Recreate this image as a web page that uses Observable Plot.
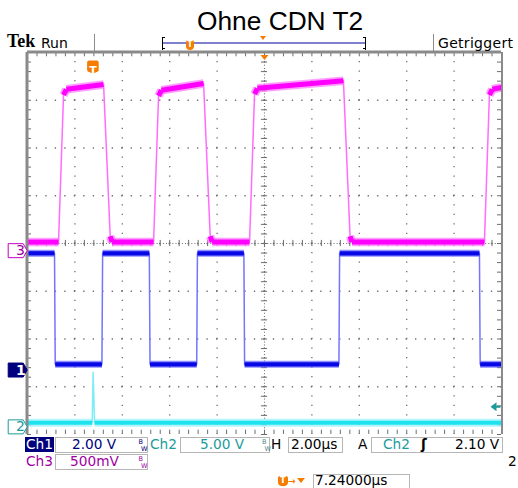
<!DOCTYPE html>
<html>
<head>
<meta charset="utf-8">
<script src="https://cdn.jsdelivr.net/npm/d3@7"></script>
<script src="https://cdn.jsdelivr.net/npm/@observablehq/plot@0.6"></script>
<style>
  body { margin: 0; background: #fff; }
  #scope { position: relative; width: 518px; height: 488px; overflow: hidden; background: #fff; }
  #scope .t { position: absolute; white-space: nowrap; line-height: 1; }
  #scope .box { position: absolute; border: 1px solid #b6b6b6; box-sizing: border-box; }
  #scope .blk { position: absolute; }
  #chart { position: absolute; left: 0; top: 0; }
</style>
</head>
<body>
<div id="scope"><div id="chart"></div></div>
<script>
// ---- Time base: 2 µs/div over 10 divisions; trigger (t = 0) sits 7.24 µs left of centre
const tLeft = -2.76, tRight = 17.24, tCenter = 7.24;

// ---- Vertical settings: volts per division and ground marker (divisions from centre)
const ch1Scale = 2.0, ch1Offset = -2.65;
const ch2Scale = 5.0, ch2Offset = -3.84;
const ch3Scale = 0.5, ch3Offset = -0.15;
const ch2TriggerLevel = 2.10;

// ---- Ch1 (blue): drive signal, time in µs / voltage in V
const ch1Time = [-2.76, -1.62, -1.59, 0.38, 0.41, 2.38, 2.41, 4.38, 4.41, 6.37, 6.40, 10.38, 10.41, 16.31, 16.34, 17.24];
const ch1Volt = [ 4.89,  4.89,  0.24, 0.24, 4.89, 4.89, 0.24, 0.24, 4.89, 4.89, 0.24,  0.24,  4.89,  4.89,  0.24,  0.24];

// ---- Ch3 (magenta): output, time in µs / voltage in V
const ch3Time = [-2.76, -1.45, -1.24, -1.12, 0.45, 0.73, 0.81,
                  2.56,  2.77,  2.89,  4.67, 4.95, 5.03,
                  6.61,  6.82,  6.94, 10.57, 10.85, 10.93,
                 16.52, 16.73, 16.85, 17.24];
const ch3Volt = [ 0.09,  0.09,  1.63,  1.69, 1.74, 0.15, 0.09,
                  0.09,  1.62,  1.68,  1.75, 0.15, 0.09,
                  0.09,  1.64,  1.70,  1.78, 0.15, 0.09,
                  0.09,  1.63,  1.69,  1.71];

// ---- Ch2 (cyan): trigger source with its single spike at t = 0
const ch2Time = [-2.76, -0.03, 0.01, 0.07, 17.24];
const ch2Volt = [ 0.44,  0.44, 5.73, 0.44,  0.44];

// ---- Readouts
const title = "Ohne CDN T2";
const ch1Readout = "2.00 V", ch2Readout = "5.00 V", ch3Readout = "500mV";
const timeReadout = "2.00µs", trigReadout = "2.10 V", delayReadout = "7.24000µs";

// ---- Colours
const magenta = "#ff00ff", blue = "#0808e6", cyan = "#1ee3ef", orange = "#f57c00";
const ch1Text = "#00007e", ch2Text = "#1b9c9c", ch3Text = "#a000a0";

const trace = (time, volt) => time.map((t, i) => ({t, v: volt[i]}));
const ch1 = trace(ch1Time, ch1Volt);
const ch2 = trace(ch2Time, ch2Volt);
const ch3 = trace(ch3Time, ch3Volt);

const toDiv = (scale, offset) => v => v / scale + offset;
const y1 = toDiv(ch1Scale, ch1Offset);
const y2 = toDiv(ch2Scale, ch2Offset);
const y3 = toDiv(ch3Scale, ch3Offset);

// flat parts of a trace carry the thick noise band, steep edges stay thin
function levelSegments(pts, toY, maxSlope = 1.5) {
  return d3.pairs(pts)
    .filter(([a, b]) => Math.abs(toY(b.v) - toY(a.v)) / (b.t - a.t) < maxSlope)
    .map(([a, b]) => ({t1: a.t, v1: a.v, t2: b.t, v2: b.v}));
}

function traceMarks(pts, toY, {thin, halo, core, haloW, coreW}) {
  const segs = levelSegments(pts, toY);
  const link = (stroke, strokeWidth, strokeOpacity) => Plot.link(segs, {
    x1: "t1", x2: "t2", y1: d => toY(d.v1), y2: d => toY(d.v2),
    stroke, strokeWidth, strokeOpacity, strokeLinecap: "butt"
  });
  return [
    Plot.line(pts, {x: "t", y: d => toY(d.v), stroke: thin, strokeWidth: 1.5}),
    link(halo, haloW, 0.75),
    link(core, coreW, 1)
  ];
}

// graticule positions
const divTimes = d3.range(1, 10).map(k => tLeft + 2 * k);
const divLevels = d3.range(-3, 4);
const minorTimes = d3.range(0, 51).map(k => tLeft + 0.4 * k);
const minorLevels = d3.range(0, 41).map(k => -4 + 0.2 * k);

// marker shapes
const channelTag = {draw(c) {
  c.moveTo(0, 0); c.lineTo(-4, -7); c.lineTo(-19, -7); c.lineTo(-19, 7); c.lineTo(-4, 7); c.closePath();
}};
const triggerTag = {draw(c) {
  c.moveTo(-5.8, -4.5); c.quadraticCurveTo(-5.8, -6.5, -3.8, -6.5); c.lineTo(3.8, -6.5);
  c.quadraticCurveTo(5.8, -6.5, 5.8, -4.5); c.lineTo(5.8, 3); c.quadraticCurveTo(5.8, 4.6, 4, 5.1);
  c.lineTo(0, 6.5); c.lineTo(-4, 5.1); c.quadraticCurveTo(-5.8, 4.6, -5.8, 3); c.closePath();
}};
const downTriangle = {draw(c) { c.moveTo(-4, -2.6); c.lineTo(4, -2.6); c.lineTo(0, 2.6); c.closePath(); }};
const levelArrow = {draw(c) {
  c.moveTo(-11, 0); c.lineTo(-5, -4.5); c.lineTo(-5, 4.5); c.closePath();
  c.moveTo(-5, -1); c.lineTo(-1, -1); c.lineTo(-1, 1); c.lineTo(-5, 1); c.closePath();
}};

const gridGray = "#6e6e6e", frameGray = "#8a8a8a";
const font = "DejaVu Sans";

const chart = Plot.plot({
  width: 518, height: 488,
  marginTop: 52, marginBottom: 54, marginLeft: 27, marginRight: 17,
  x: {domain: [tLeft, tRight], axis: null},
  y: {domain: [-4, 4], axis: null},
  style: {background: "transparent", overflow: "visible"},
  marks: [
    // dotted graticule
    Plot.ruleX(divTimes, {stroke: gridGray, strokeWidth: 1.3, strokeDasharray: "1.3,8.25", strokeDashoffset: 0.65}),
    Plot.ruleY(divLevels, {stroke: gridGray, strokeWidth: 1.3, strokeDasharray: "1.3,8.18", strokeDashoffset: 0.65}),
    Plot.ruleX([tCenter], {stroke: gridGray, strokeWidth: 1.1, strokeDasharray: "1,2.18"}),
    Plot.ruleY([0], {stroke: gridGray, strokeWidth: 1.1, strokeDasharray: "1,2.16"}),
    Plot.ruleX(minorTimes, {y1: -0.065, y2: 0.065, stroke: gridGray, strokeWidth: 1}),
    Plot.ruleY(minorLevels, {x1: tCenter - 0.13, x2: tCenter + 0.13, stroke: gridGray, strokeWidth: 1}),
    // edge rulers
    Plot.ruleX(minorTimes, {y1: 4, y2: 3.91, stroke: gridGray, strokeWidth: 1}),
    Plot.ruleX(minorTimes, {y1: -4, y2: -3.91, stroke: gridGray, strokeWidth: 1}),
    Plot.ruleY(minorLevels, {x1: tLeft, x2: tLeft + 0.17, stroke: gridGray, strokeWidth: 1}),
    Plot.ruleY(minorLevels, {x1: tRight - 0.17, x2: tRight, stroke: gridGray, strokeWidth: 1}),

    // traces
    ...traceMarks(ch3, y3, {thin: "#ff6cff", halo: "#ff7dff", core: magenta, haloW: 8.5, coreW: 5}),
    ...traceMarks(ch1, y1, {thin: "#7474ff", halo: "#6a6aff", core: blue, haloW: 7, coreW: 4.2}),
    ...traceMarks(ch2, y2, {thin: "#7eecf6", halo: "#98f2f8", core: cyan, haloW: 8, coreW: 4}),

    // screen frame
    Plot.ruleX([tLeft], {stroke: frameGray, strokeWidth: 3, dx: -0.5}),
    Plot.ruleX([tRight], {stroke: frameGray, strokeWidth: 2, dx: 0.5}),
    Plot.ruleY([4], {stroke: frameGray, strokeWidth: 3, dy: -0.5}),

    // channel ground markers
    Plot.dot([ch3Offset], {y: d => d, frameAnchor: "left", dx: -0.3, symbol: channelTag, fill: "#fff", stroke: "#c400c4", strokeWidth: 1}),
    Plot.text([ch3Offset], {y: d => d, frameAnchor: "left", dx: -11.5, text: () => "3", fill: ch3Text, fontSize: 14, fontFamily: font}),
    Plot.dot([ch1Offset], {y: d => d, frameAnchor: "left", dx: -0.3, symbol: channelTag, fill: "#00007c", stroke: "#00007c", strokeWidth: 1}),
    Plot.text([ch1Offset], {y: d => d, frameAnchor: "left", dx: -11.5, text: () => "1", fill: "#fff", fontSize: 14, fontWeight: "bold", fontFamily: font}),
    Plot.dot([ch2Offset], {y: d => d, frameAnchor: "left", dx: -0.3, symbol: channelTag, fill: "#fff", stroke: "#1d9a9a", strokeWidth: 1}),
    Plot.text([ch2Offset], {y: d => d, frameAnchor: "left", dx: -11.5, text: () => "2", fill: ch2Text, fontSize: 14, fontFamily: font}),

    // trigger level on Ch2
    Plot.dot([ch2Offset + ch2TriggerLevel / ch2Scale], {y: d => d, frameAnchor: "right", symbol: levelArrow, fill: "#1d9a9a"}),
    // trigger point and screen centre
    Plot.dot([0], {x: d => d, frameAnchor: "top", dy: 14.5, symbol: triggerTag, fill: orange}),
    Plot.text([0], {x: d => d, frameAnchor: "top", dy: 14, text: () => "T", fill: "#fff", fontSize: 11, fontWeight: "bold", fontFamily: font}),
    Plot.dot([tCenter], {x: d => d, frameAnchor: "top", dy: 5, symbol: downTriangle, fill: orange})
  ]
});
document.getElementById("chart").appendChild(chart);

// ---- header and readout panel
const scope = document.getElementById("scope");
function label(text, x, base, {size = 13.7, color = "#000", family = font, weight = "normal", ratio = 0.846, spacing = 0} = {}) {
  const el = document.createElement("div");
  el.className = "t";
  el.textContent = text;
  Object.assign(el.style, {
    left: x + "px", top: (base - ratio * size) + "px", fontSize: size + "px",
    color, fontFamily: `"${family}"`, fontWeight: weight, letterSpacing: spacing + "px"
  });
  scope.appendChild(el);
  return el;
}
function box(x, y, w, h, cls = "box", style = {}) {
  const el = document.createElement("div");
  el.className = cls;
  Object.assign(el.style, {left: x + "px", top: y + "px", width: w + "px", height: h + "px"}, style);
  scope.appendChild(el);
  return el;
}
function tIcon(x, y, w, h, size) {
  const el = box(x, y, w, h, "blk", {background: orange, borderRadius: "2px 2px 4px 4px", color: "#fff",
    fontFamily: `"${font}"`, fontWeight: "bold", fontSize: size + "px", lineHeight: h + "px", textAlign: "center"});
  el.textContent = "T";
}
function downArrowHead(x, y, w, h) {
  box(x, y, 0, 0, "blk", {borderLeft: `${w / 2}px solid transparent`, borderRight: `${w / 2}px solid transparent`,
    borderTop: `${h}px solid ${orange}`});
}
function bw(x, color) {
  label("B", x, 444.5, {size: 6.5, color});
  label("W", x + 2.5, 451, {size: 6.5, color});
}

// title and status bar
label(title, 197, 30, {size: 26.3, family: "Liberation Sans"});
label("Tek", 7, 47.5, {size: 18, family: "Liberation Serif", weight: "bold", ratio: 0.838});
label("Run", 41, 47.5, {size: 14});
box(94, 34, 1, 18, "blk", {background: "#8c8c8c"});
box(433, 34, 1, 18, "blk", {background: "#8c8c8c"});
label("Getriggert", 438, 47.5, {size: 14, spacing: 0.3});
// record-length bar
box(163, 42, 202, 2, "blk", {background: "#8080d0"});
box(161.5, 37, 1.5, 12.5, "blk", {background: "#000"});
box(161.5, 37, 3, 1.2, "blk", {background: "#000"});
box(161.5, 48.3, 3, 1.2, "blk", {background: "#000"});
box(364.5, 37, 1.5, 12.5, "blk", {background: "#000"});
box(363, 37, 3, 1.2, "blk", {background: "#000"});
box(363, 48.3, 3, 1.2, "blk", {background: "#000"});
tIcon(186, 39.5, 8, 10, 8);
downArrowHead(259.7, 35.5, 7.6, 4.5);

// readouts, row 1
box(25, 437, 29, 15, "blk", {background: "#00007c"});
label("Ch1", 26, 449.5, {color: "#fff"});
box(55, 437, 93, 16);
label(ch1Readout, 72, 449.5, {color: ch1Text});
bw(138.5, ch1Text);
label("Ch2", 150, 449.5, {color: ch2Text});
box(180, 437, 90, 16);
label(ch2Readout, 200, 449.5, {color: ch2Text});
bw(262, "#4a8a8a");
label("H", 271, 449.5);
box(288, 437, 55, 16);
label(timeReadout, 291, 449.5);
label("A", 358, 449.5);
box(371, 437, 132, 16);
label("Ch2", 383, 449.5, {color: ch2Text});
label("ʃ", 421, 449.5, {weight: "bold"});
label(trigReadout, 455, 449.5);
// row 2
label("Ch3", 26, 466.7, {color: ch3Text});
box(55, 454, 93, 16);
label(ch3Readout, 70, 466.7, {color: ch3Text});
label("B", 138.5, 461.5, {size: 6.5, color: ch3Text});
label("W", 141, 468, {size: 6.5, color: ch3Text});
label("2", 508, 467);
// row 3
tIcon(278, 476, 10, 9.5, 8.5);
label("→", 288, 484.5, {size: 9, color: orange, weight: "bold"});
downArrowHead(296.5, 477.5, 8, 5);
box(313, 474, 97, 16);
label(delayReadout, 315, 485.5);
</script>
</body>
</html>
